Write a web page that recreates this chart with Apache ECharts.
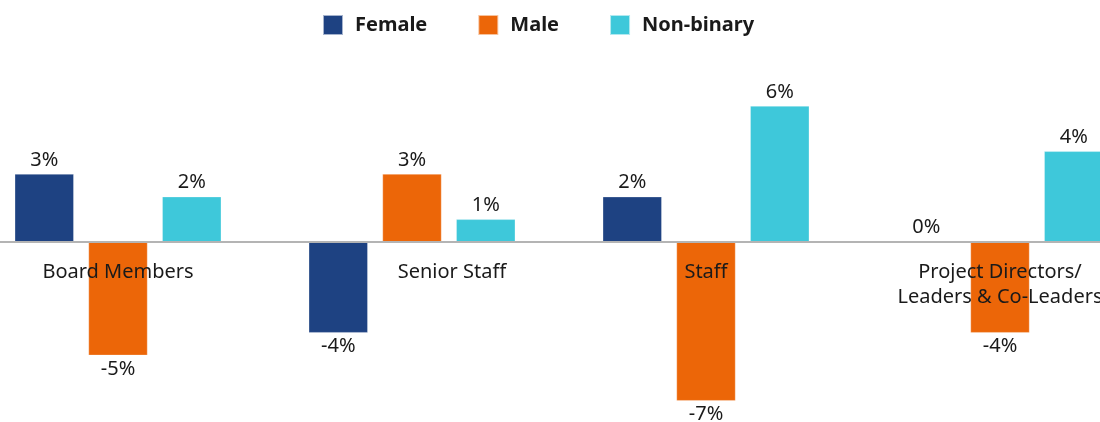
<!DOCTYPE html>
<html>
<head>
<meta charset="utf-8">
<script src="https://cdn.jsdelivr.net/npm/echarts@6/dist/echarts.min.js"></script>
<style>
  html, body { margin: 0; padding: 0; background: #fff; }
  #chart { width: 1100px; height: 422px; }
</style>
</head>
<body>
<div id="chart"></div>
<script>
// 数据
var categories = ['Board Members', 'Senior Staff', 'Staff', 'Project Directors/\nLeaders & Co-Leaders']
var female = [3, -4, 2, 0]
var male = [-5, 3, -7, -4]
var nonBinary = [2, 1, 6, 4]

var FONT = '"Noto Sans", "Open Sans", sans-serif'
var Y_MIN = -8
var Y_MAX = 7
var UNIT = 22.67 // 每1%的像素
var ZERO_Y = 242

/* 正负值标签位置 */
function toItems(arr) {
  return arr.map(function (v) {
    return { value: v, label: { position: v < 0 ? 'bottom' : 'top' } }
  })
}

function makeSeries(name, arr, color) {
  return {
    name: name,
    type: 'bar',
    barWidth: 59,
    barGap: '25%',
    itemStyle: { color: color, borderColor: 'rgba(255,255,255,0.6)', borderWidth: 0.5 },
    label: {
      show: true,
      distance: 4,
      formatter: '{c}%',
      fontFamily: FONT,
      fontSize: 20,
      color: '#1a1a1a'
    },
    data: toItems(arr)
  }
}

var gridTop = ZERO_Y - Y_MAX * UNIT
var gridHeight = (Y_MAX - Y_MIN) * UNIT

var myChart = echarts.init(document.getElementById('chart'))
myChart.setOption({
  animation: false,
  legend: {
    top: 14,
    left: 322,
    padding: 0,
    itemWidth: 20,
    itemHeight: 20,
    itemGap: 50,
    icon: 'rect',
    textStyle: {
      fontFamily: FONT,
      fontSize: 20,
      fontWeight: 'bold',
      color: '#1a1a1a',
      padding: [0, 0, 0, 7]
    },
    data: ['Female', 'Male', 'Non-binary']
  },
  grid: { left: -29, width: 1176, top: gridTop, height: gridHeight, outerBoundsMode: 'none' },
  xAxis: {
    type: 'category',
    data: categories,
    position: 'bottom',
    z: 5,
    offset: -(gridTop + gridHeight - ZERO_Y),
    axisLine: { onZero: false, lineStyle: { color: '#b4b4b4', width: 2 } },
    axisTick: { show: false },
    axisLabel: {
      interval: 0,
      margin: 18,
      fontFamily: FONT,
      fontSize: 20,
      lineHeight: 25,
      color: '#1a1a1a',
      formatter: function (v) {
        return v === 'Senior Staff' ? '{s|' + v + '}' : v
      },
      rich: {
        s: { fontFamily: FONT, fontSize: 20, lineHeight: 25, color: '#1a1a1a', padding: [0, 0, 0, 80] }
      }
    }
  },
  yAxis: {
    type: 'value',
    min: Y_MIN,
    max: Y_MAX,
    show: false
  },
  series: [
    makeSeries('Female', female, '#1e4282'),
    makeSeries('Male', male, '#ec6608'),
    makeSeries('Non-binary', nonBinary, '#3ec8da')
  ]
})
</script>
</body>
</html>
